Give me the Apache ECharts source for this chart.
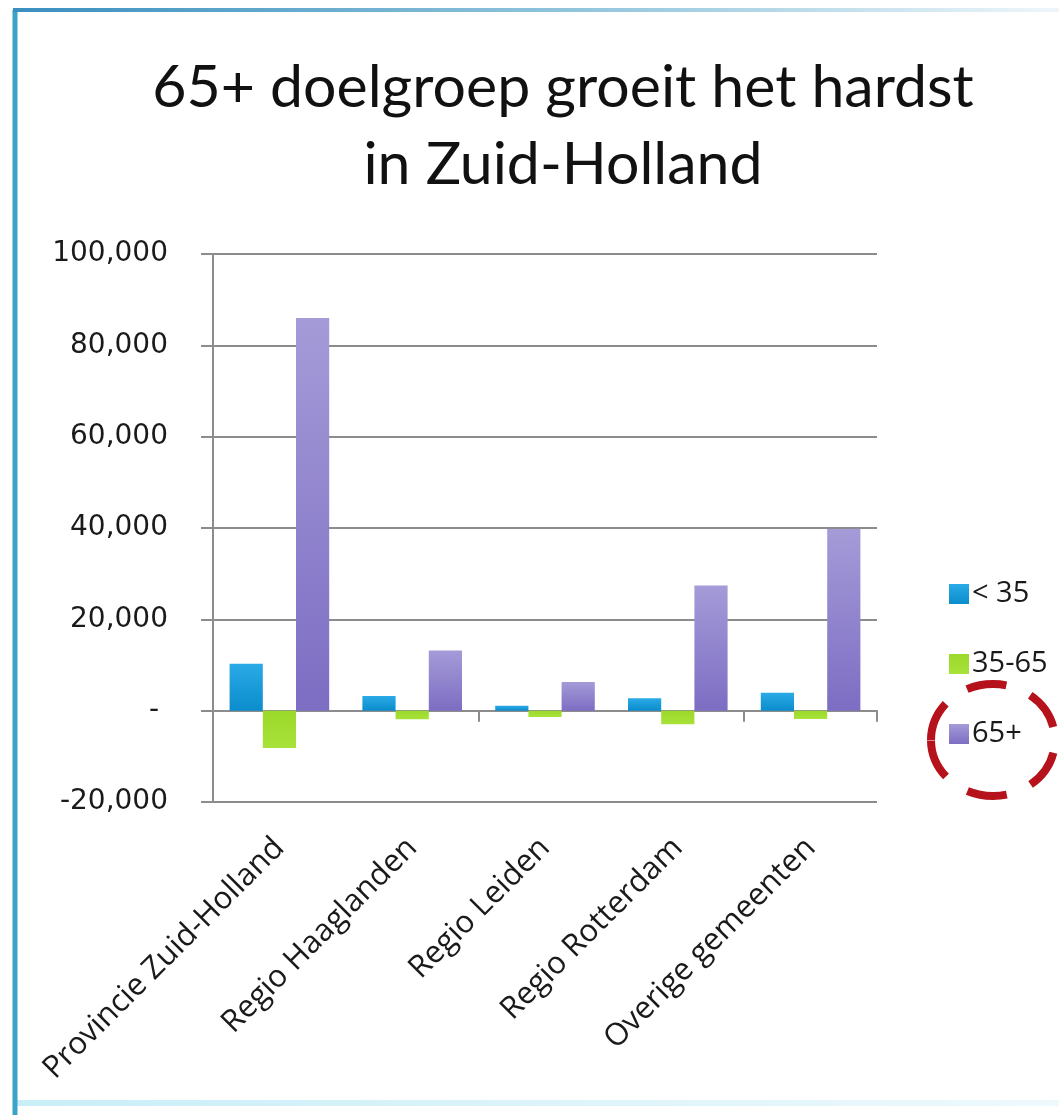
<!DOCTYPE html>
<html>
<head>
<meta charset="utf-8">
<script src="https://cdn.jsdelivr.net/npm/echarts@6/dist/echarts.min.js"></script>
<style>
html,body{margin:0;padding:0;background:#fff;}
#chart{width:1059px;height:1115px;}
</style>
</head>
<body>
<div id="chart"></div>
<script>
const categories = ['Provincie Zuid-Holland', 'Regio Haaglanden', 'Regio Leiden', 'Regio Rotterdam', 'Overige gemeenten'];
const seriesNames = ['< 35', '35-65', '65+'];
const under35 = [10300, 3200, 1100, 2700, 3900];
const age35to65 = [-8200, -1900, -1400, -3000, -1800];
const over65 = [86000, 13200, 6300, 27400, 39800];
const titleText = '65+ doelgroep groeit het hardst\nin Zuid-Holland';

const chart = echarts.init(document.getElementById('chart'), null, {renderer: 'canvas'});

function grad(top, bottom) {
  return new echarts.graphic.LinearGradient(0, 0, 0, 1, [
    {offset: 0, color: top}, {offset: 1, color: bottom}
  ]);
}
const gridColor = '#8c8c8c';

const option = {
  backgroundColor: '#ffffff',
  animation: false,
  title: {
    text: titleText,
    left: 558,
    top: 44,
    textAlign: 'center',
    textStyle: {
      fontFamily: 'Lato',
      fontSize: 59,
      fontWeight: 'normal',
      color: '#111',
      lineHeight: 77
    }
  },
  legend: {
    orient: 'vertical',
    left: 944,
    top: 573,
    itemWidth: 20,
    itemHeight: 20,
    itemGap: 38,
    icon: 'rect',
    data: seriesNames,
    textStyle: {
      fontFamily: 'Open Sans',
      fontSize: 29,
      color: '#1a1a1a',
      lineHeight: 32,
      padding: [0, 0, 0, -2]
    }
  },
  grid: {left: 213, right: 182, top: 254, bottom: 313, containLabel: false},
  xAxis: [
    {
      type: 'category',
      data: categories,
      axisLine: {show: true, onZero: true, lineStyle: {color: gridColor, width: 2}},
      axisTick: {show: true, length: 11, lineStyle: {color: gridColor, width: 2}},
      axisLabel: {show: false}
    },
    {
      type: 'category',
      data: categories,
      position: 'bottom',
      axisLine: {show: false, onZero: false},
      axisTick: {show: false},
      axisLabel: {
        show: true,
        rotate: 45,
        margin: 41,
        fontFamily: 'Open Sans',
        fontSize: 31,
        color: '#1a1a1a',
        interval: 0
      }
    }
  ],
  yAxis: {
    type: 'value',
    min: -20000,
    max: 100000,
    interval: 20000,
    axisLine: {show: true, lineStyle: {color: gridColor, width: 2}},
    axisTick: {show: true, length: 12, lineStyle: {color: gridColor, width: 2}},
    splitLine: {show: true, lineStyle: {color: gridColor, width: 2}},
    axisLabel: {
      margin: 45,
      fontFamily: 'DejaVu Sans',
      fontSize: 28,
      color: '#1a1a1a',
      formatter: function (v) { return v === 0 ? '- ' : v.toLocaleString('en-US'); }
    }
  },
  series: [
    {
      name: seriesNames[0], type: 'bar', xAxisIndex: 0, data: under35,
      barCategoryGap: '25%', barGap: '0%',
      itemStyle: {color: grad('#2aaae6', '#0b8ccc')}
    },
    {
      name: seriesNames[1], type: 'bar', xAxisIndex: 0, data: age35to65,
      barCategoryGap: '25%', barGap: '0%',
      itemStyle: {color: grad('#9bd92a', '#a8e23a')}
    },
    {
      name: seriesNames[2], type: 'bar', xAxisIndex: 0, data: over65,
      barCategoryGap: '25%', barGap: '0%',
      itemStyle: {color: grad('#a59bd8', '#7d6dc3')}
    }
  ],
  graphic: [
    {type: 'line', shape: {x1: 15, y1: 10, x2: 15, y2: 1115}, style: {stroke: '#3aa3c9', lineWidth: 5}, z: 100},
    {type: 'rect', shape: {x: 13, y: 8, width: 1046, height: 4},
      style: {fill: new echarts.graphic.LinearGradient(0, 0, 1, 0, [
        {offset: 0, color: '#3a8fbf'}, {offset: 0.6, color: '#9ccbe0'}, {offset: 1, color: '#eef6fa'}])}, z: 100},
    {type: 'rect', shape: {x: 13, y: 1100, width: 1046, height: 6},
      style: {fill: new echarts.graphic.LinearGradient(0, 0, 1, 0, [
        {offset: 0, color: '#c9eef7'}, {offset: 1, color: '#eef9fc'}])}, z: 99},
    {type: 'ellipse', shape: {cx: 993, cy: 740, rx: 62, ry: 56},
      style: {fill: 'none', stroke: '#b5121b', lineWidth: 8, lineDash: [40, 26]}, z: 100}
  ]
};
chart.setOption(option);
</script>
</body>
</html>
